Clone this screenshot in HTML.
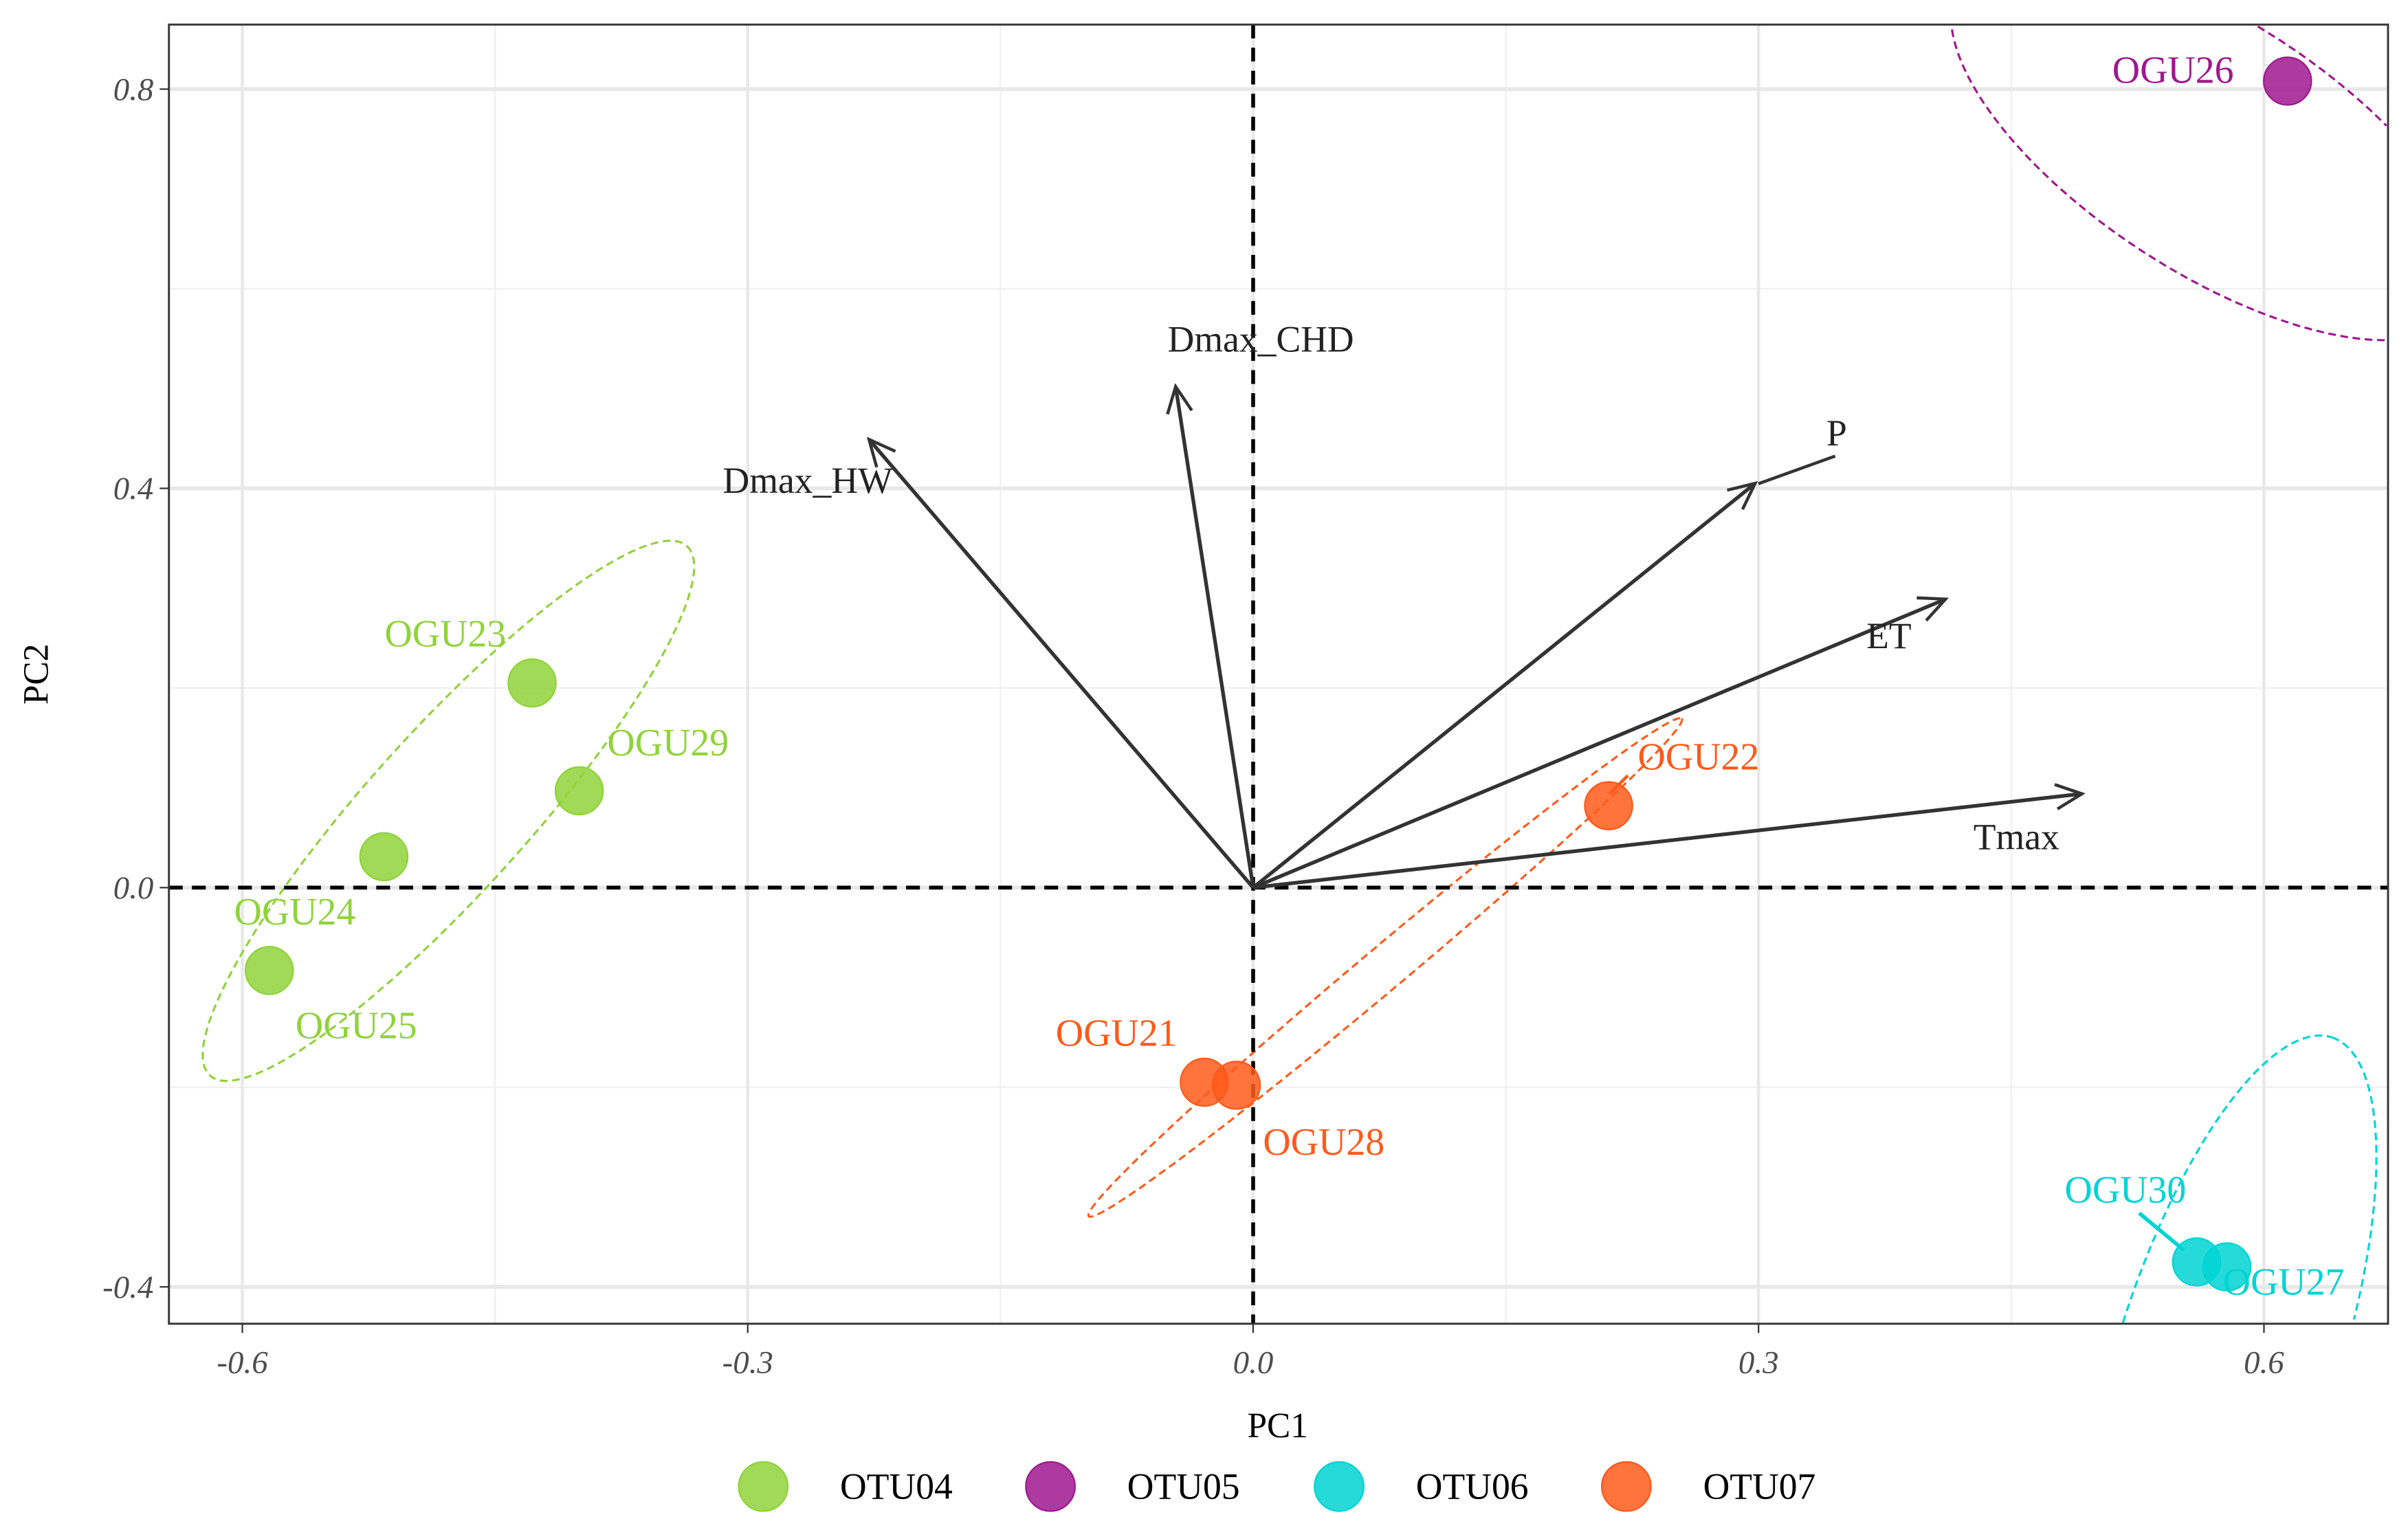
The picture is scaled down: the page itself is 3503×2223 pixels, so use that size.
<!DOCTYPE html>
<html><head><meta charset="utf-8"><style>html,body{margin:0;padding:0;background:#fff;overflow:hidden;width:3503px;height:2223px}svg{display:block}</style></head>
<body>
<svg width="3503" height="2223" viewBox="0 0 1568 995" xmlns="http://www.w3.org/2000/svg" font-family="'Liberation Serif', serif">
<defs>
<marker id="ah" markerWidth="20" markerHeight="20" refX="18" refY="10" orient="auto" markerUnits="userSpaceOnUse" viewBox="0 0 20 20"><path d="M1,2 L18,10 L1,18" fill="none" stroke="#333" stroke-width="2"/></marker></defs>
<rect x="110" y="16" width="1445" height="846" fill="#fff"/>
<g id="grid"></g>
<g id="ell"></g>
<g id="zero"></g>
<g id="arrows"></g>
<g id="pts"></g>
<g id="axes"></g>
<rect x="110" y="16" width="1445" height="846" fill="none" stroke="#333" stroke-width="1.3"/>
<text x="832" y="936" font-size="23" text-anchor="middle" fill="#000">PC1</text>
<text transform="translate(31,439) rotate(-90)" font-size="23" text-anchor="middle" fill="#000">PC2</text>
<g id="legend"></g>
</svg>
<script>
const xTicks=[-0.6,-0.3,0,0.3,0.6];
const xTickLabels=["-0.6","-0.3","0.0","0.3","0.6"];
const xMinor=[-0.45,-0.15,0.15,0.45];
const yTicks=[-0.4,0,0.4,0.8];
const yTickLabels=["-0.4","0.0","0.4","0.8"];
const yMinor=[-0.2,0.2,0.6];
const pointNames=["OGU23","OGU29","OGU24b","OGU24","OGU26","OGU30","OGU27","OGU21","OGU28","OGU22"];
const pointGroups=["OTU04","OTU04","OTU04","OTU04","OTU05","OTU06","OTU06","OTU07","OTU07","OTU07"];
const pc1=[-0.428,-0.400,-0.516,-0.584,0.614,0.560,0.578,-0.029,-0.010,0.211];
const pc2=[0.205,0.097,0.031,-0.083,0.808,-0.375,-0.380,-0.195,-0.198,0.082];
const arrowNames=["Dmax_HW","Dmax_CHD","P","ET","Tmax"];
const arrowX=[-0.228,-0.046,0.298,0.411,0.492];
const arrowY=[0.449,0.502,0.405,0.289,0.094];
const groups=["OTU04","OTU05","OTU06","OTU07"];
const colors={"OTU04":"#8fd33a","OTU05":"#a0178f","OTU06":"#00d4d4","OTU07":"#ff5a1a"};
const X=v=>816+v*1097, Y=v=>578-v*650;
const NS="http://www.w3.org/2000/svg";
function mk(p,t,a){const e=document.createElementNS(NS,t);for(const k in a)e.setAttribute(k,a[k]);p.appendChild(e);return e;}
const g=document.getElementById('grid');
xMinor.forEach(v=>{const l=mk(g,'line',{x1:X(v),x2:X(v),y1:16,y2:862,stroke:'#f0f0f0','stroke-width':1});

});
yMinor.forEach(v=>{const l=mk(g,'line',{y1:Y(v),y2:Y(v),x1:110,x2:1555,stroke:'#f0f0f0','stroke-width':1});

});
xTicks.forEach(v=>{const l=mk(g,'line',{x1:X(v),x2:X(v),y1:16,y2:862,stroke:'#e8e8e8','stroke-width':2});

});
yTicks.forEach(v=>{const l=mk(g,'line',{y1:Y(v),y2:Y(v),x1:110,x2:1555,stroke:'#e8e8e8','stroke-width':2.5});

});
const ax=document.getElementById('axes');
xTicks.forEach((v,i)=>{mk(ax,'line',{x1:X(v),x2:X(v),y1:862,y2:868,stroke:'#333'});
const t=mk(ax,'text',{x:X(v),y:894,'font-size':21,'font-style':'italic','text-anchor':'middle',fill:'#4d4d4d'});t.textContent=xTickLabels[i];

});
yTicks.forEach((v,i)=>{mk(ax,'line',{y1:Y(v),y2:Y(v),x1:104,x2:110,stroke:'#333'});
const t=mk(ax,'text',{x:100,y:Y(v)+7,'font-size':21,'font-style':'italic','text-anchor':'end',fill:'#4d4d4d'});t.textContent=yTickLabels[i];

});
const el=document.getElementById('ell');
const ellSpec=[["OTU04",292,528,232,52,-48],["OTU07",902,630,252,14,-40],["OTU06",1452,880,215,72,-72],["OTU05",1440,95,195,82,33]];
const inside=(x,y)=>x>=110&&x<=1555&&y>=16&&y<=862;
ellSpec.forEach(s=>{const a=s[5]*Math.PI/180;let d='',pen=false;
for(let k=0;k<=360;k++){const t=k*Math.PI/180;const ex=s[3]*Math.cos(t),ey=s[4]*Math.sin(t);
const x=s[1]+ex*Math.cos(a)-ey*Math.sin(a),y=s[2]+ex*Math.sin(a)+ey*Math.cos(a);
if(inside(x,y)){d+=(pen?'L':'M')+x.toFixed(1)+','+y.toFixed(1);pen=true;}else pen=false;}
const e=mk(el,'path',{d:d,fill:'none',stroke:colors[s[0]],'stroke-width':1.4,'stroke-dasharray':'5,3'});

});
const z=document.getElementById('zero');
const zx=mk(z,'line',{x1:110,x2:1555,y1:Y(0),y2:Y(0),stroke:'#000','stroke-width':2.5,'stroke-dasharray':'9,6'});


const zy=mk(z,'line',{y1:16,y2:862,x1:X(0),x2:X(0),stroke:'#000','stroke-width':2.5,'stroke-dasharray':'9,6'});


const ar=document.getElementById('arrows');
const alab={"Dmax_HW":[526,321],"Dmax_CHD":[821,229],"P":[1196,290],"ET":[1230,422],"Tmax":[1313,553]};
arrowNames.forEach((n,i)=>{const l=mk(ar,'line',{x1:X(0),y1:Y(0),x2:X(arrowX[i]),y2:Y(arrowY[i]),stroke:'#333','stroke-width':2.4,'marker-end':'url(#ah)'});


const t=mk(ar,'text',{x:alab[n][0],y:alab[n][1],'font-size':24,'text-anchor':'middle',fill:'#222'});t.textContent=n;

});
mk(ar,'line',{x1:1145,y1:315,x2:1195,y2:297,stroke:'#333','stroke-width':2});
const p=document.getElementById('pts');
mk(p,'line',{x1:1393,y1:790,x2:1422,y2:814,stroke:colors.OTU06,'stroke-width':2.5});
mk(p,'line',{x1:1060,y1:505,x2:1048,y2:517,stroke:colors.OTU07,'stroke-width':2});
pc1.forEach((v,i)=>{const c=mk(p,'circle',{cx:X(v),cy:Y(pc2[i]),r:15.5,fill:colors[pointGroups[i]],'fill-opacity':0.85,stroke:colors[pointGroups[i]],'stroke-width':1});

});
const labs=[["OGU23",290,421,"OTU04"],["OGU29",435,492,"OTU04"],["OGU24",192,602,"OTU04"],["OGU25",232,676,"OTU04"],["OGU26",1415,54,"OTU05"],["OGU30",1384,783,"OTU06"],["OGU27",1487,843,"OTU06"],["OGU21",727,681,"OTU07"],["OGU28",862,752,"OTU07"],["OGU22",1106,501,"OTU07"]];
labs.forEach(s=>{const t=mk(p,'text',{x:s[1],y:s[2],'font-size':25,'text-anchor':'middle',fill:colors[s[3]]});t.textContent=s[0];

});
const lg=document.getElementById('legend');
const lx=[497,684,872,1059];
groups.forEach((gname,i)=>{const c=mk(lg,'circle',{cx:lx[i],cy:968,r:16,fill:colors[gname],'fill-opacity':0.85,stroke:colors[gname]});


const t=mk(lg,'text',{x:lx[i]+50,y:976,'font-size':24,fill:'#000'});t.textContent=gname;

});
</script>
</body></html>
